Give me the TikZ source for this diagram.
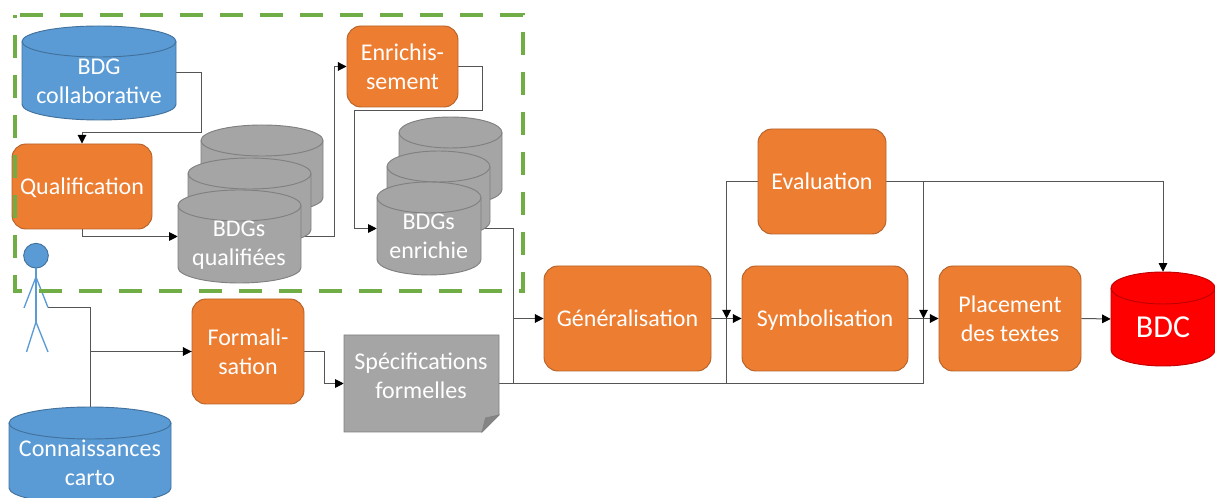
\documentclass[tikz,border=0pt]{standalone}
\usepackage{fontspec}
\setmainfont{Carlito}
\usetikzlibrary{arrows.meta,backgrounds}
\definecolor{cOrange}{HTML}{ED7D31}
\definecolor{cOrangeD}{HTML}{B5622A}
\definecolor{cBlue}{HTML}{5B9BD5}
\definecolor{cBlueD}{HTML}{41719C}
\definecolor{cGray}{HTML}{A5A5A5}
\definecolor{cGrayD}{HTML}{808080}
\definecolor{cFold}{HTML}{858585}
\definecolor{cGreen}{HTML}{70AD47}
\definecolor{cRed}{HTML}{FF0000}
\definecolor{cRedD}{HTML}{C00000}
\definecolor{cWire}{HTML}{555555}
\newcommand{\mylabel}{\fontsize{18}{21.75}\selectfont}
\newcommand{\nodepth}[1]{\raisebox{0pt}[\height][0pt]{#1}}
\tikzset{
  box/.style={draw=cOrangeD,fill=cOrange,rounded corners=10.5pt,line width=.7pt,inner sep=0pt,text=white,align=center,font=\mylabel},
  anchorbox/.style={inner sep=0pt},
  lab/.style={text=white,align=center,font=\mylabel,inner sep=0pt},
  wire/.style={draw=cWire,line width=.75pt},
  arr/.style={wire,-{Triangle[length=6.5pt,width=6.5pt,color=black]}},
  zone/.style={draw=cGreen,line width=3.7pt,dash pattern=on 17.25pt off 12.75pt,dash phase=26.25pt},
  stick/.style={draw=cBlue,line width=1pt},
}
\newcommand{\dbcyl}[8]{% name x1 y1 x2 y2 ry fill stroke
  \pgfmathsetmacro{\dbcx}{(#2+#4)/2}
  \pgfmathsetmacro{\dbrx}{(#4-#2)/2}
  \pgfmathsetmacro{\dbkx}{.5523*\dbrx}
  \pgfmathsetmacro{\dbky}{.5523*#6}
  \pgfmathsetmacro{\dbta}{#3+#6}
  \pgfmathsetmacro{\dbtb}{#3+2*#6}
  \pgfmathsetmacro{\dbba}{#5-#6}
  \path[fill=#7,draw=#8,line width=.7pt]
    (#2,\dbta) .. controls (#2,\dbta-\dbky) and (\dbcx-\dbkx,#3) .. (\dbcx,#3)
    .. controls (\dbcx+\dbkx,#3) and (#4,\dbta-\dbky) .. (#4,\dbta)
    -- (#4,\dbba) .. controls (#4,\dbba+\dbky) and (\dbcx+\dbkx,#5) .. (\dbcx,#5)
    .. controls (\dbcx-\dbkx,#5) and (#2,\dbba+\dbky) .. (#2,\dbba) -- cycle;
  \draw[#8,line width=.7pt]
    (#2,\dbta) .. controls (#2,\dbta+\dbky) and (\dbcx-\dbkx,\dbtb) .. (\dbcx,\dbtb)
    .. controls (\dbcx+\dbkx,\dbtb) and (#4,\dbta+\dbky) .. (#4,\dbta);
  \pgfmathsetmacro{\dbW}{(#4-#2)*.75}
  \pgfmathsetmacro{\dbH}{(#5-#3)*.75}
  \node[anchorbox,minimum width=\dbW pt,minimum height=\dbH pt] (#1) at (\dbcx,{(#3+#5)/2}) {};
}
\newcommand{\rbox}[6]{% name x1 y1 x2 y2 text
  \pgfmathsetmacro{\dbW}{(#4-#2)*.75}
  \pgfmathsetmacro{\dbH}{(#5-#3)*.75}
  \node[box,minimum width=\dbW pt,minimum height=\dbH pt] (#1) at ({(#2+#4)/2},{(#3+#5)/2}) {#6};
}
\pgfdeclarelayer{wires}
\pgfsetlayers{wires,main}
\begin{document}
\begin{tikzpicture}[x=.75pt,y=-.75pt]
\useasboundingbox (0,0) rectangle (1215,498);
\clip (0,0) rectangle (1215,498);

% cylinders
\dbcyl{bdgc}{22}{26}{176}{120}{15.5}{cBlue}{cBlueD}
\node[lab] (bdgcT) at (99,81.5) {BDG\\collaborative};
\dbcyl{conn}{9}{407}{171}{504}{16}{cBlue}{cBlueD}
\node[lab] (connT) at (90,463) {Connaissances\\carto};

\dbcyl{qb}{201}{125}{323}{213}{15.5}{cGray}{cGrayD}
\dbcyl{qm}{188}{158}{311}{245}{15.5}{cGray}{cGrayD}
\dbcyl{qf}{178}{190}{301}{283}{15.5}{cGray}{cGrayD}
\node[lab] (qfT) at (239,245) {BDGs\\qualifiées};

\dbcyl{eb}{399}{117}{502}{205}{15.5}{cGray}{cGrayD}
\dbcyl{em}{387}{151}{490}{237}{15.5}{cGray}{cGrayD}
\dbcyl{ef}{377}{182}{481}{275}{15.5}{cGray}{cGrayD}
\node[lab] (efT) at (428.7,236.7) {BDGs\\enrichie};

\dbcyl{bdc}{1111}{272}{1215}{366}{16}{cRed}{cRedD}
\node[lab,font=\fontsize{24}{28}\selectfont] (bdcT) at (1163,327) {BDC};

% process boxes
\rbox{qual}{12}{144}{152}{229}{\nodepth{Qualification}}
\rbox{enri}{347}{26}{458}{107}{Enrichis-\\sement}
\rbox{form}{192}{299}{304}{404}{Formali-\\sation}
\rbox{gene}{544}{266}{711}{371}{Généralisation}
\rbox{symb}{742}{266}{908}{371}{\nodepth{Symbolisation}}
\rbox{plac}{939}{266}{1081}{371}{Placement\\des textes}
\rbox{eval}{758}{129}{886}{234}{Evaluation}

% formal specification sheet
\path[fill=cGray,draw=cGrayD,line width=.7pt] (344,335) -- (499,335) -- (499,415) -- (482,432) -- (344,432) -- cycle;
\path[fill=cFold,draw=cGrayD,line width=.5pt] (499,415) -- (485.5,418) -- (482,432) -- cycle;
\node[anchorbox,minimum width=116.25pt,minimum height=72.75pt] (spec) at (421.5,383.5) {};
\node[lab] (specT) at (421,376) {Spécifications\\formelles};

% actor
\node[circle,fill=cBlue,draw=cBlueD,line width=.7pt,minimum size=18.5pt,inner sep=0pt] (head) at (36,255.7) {};
\coordinate (hip) at (36,322);
\coordinate (hand) at (48,307.5);
\draw[stick] (head.south) -- (hip);
\draw[stick] (36,277) -- (24,308);
\draw[stick] (36,277) -- (hand);
\draw[stick] (hip) -- (26.5,352);
\draw[stick] (hip) -- (48,352);

% connectors
\begin{pgfonlayer}{wires}
\draw[arr] (bdgc.east) -- (201,73) |- (82,133) -- (qual.north);
\draw[arr] (qual.south) |- (qf.west);
\draw[arr] (qf.east) -- (334,236.5) |- (enri.west);
\draw[arr] (enri.east) -- (482,66.5) |- (354,111) |- (ef.west);
\draw[arr] (ef.east) -- (513,228.5) |- (gene.west);
\draw[wire] (hand) -- (90,307.5) |- (form.west);
\draw[wire] (conn.north) -- (90,318.5);
\draw[arr] (90,351.5) -- (form.west);
\draw[arr] (form.east) -- (324,351.5) |- (spec.west);
\draw[wire] (spec.east) -- (923.5,383.5) -- (923.5,318.5);
\draw[wire] (513,383.5) -- (513,318.5);
\draw[wire] (726.6,383.5) -- (726.6,318.5);
\draw[arr] (gene.east) -- (symb.west);
\draw[arr] (symb.east) -- (plac.west);
\draw[arr] (plac.east) -- (bdc.west);
\draw[arr] (eval.east) -| (bdc.north);
\draw[arr] (eval.west) -- (726.6,181.5) -- (726.6,318.5);
\draw[arr] (923.5,181.5) -- (923.5,318.5);
\end{pgfonlayer}

% dashed zone
\draw[zone] (15,15) -- (523,15) -- (523,291) -- (15,291) -- cycle;
\end{tikzpicture}
\end{document}
